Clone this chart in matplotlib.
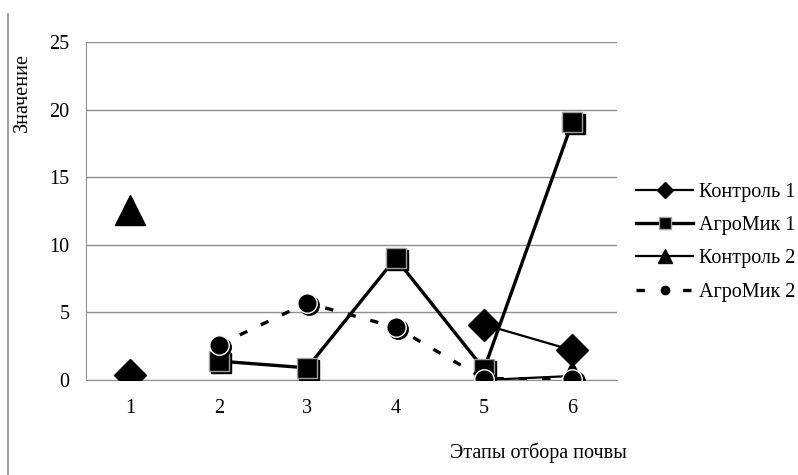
import numpy as np
import matplotlib.pyplot as plt
import matplotlib.transforms as mtransforms
from matplotlib.lines import Line2D

plt.rcParams['font.family'] = ['Liberation Serif', 'DejaVu Serif']

stages = [1, 2, 3, 4, 5, 6]
control1 = [0.4, np.nan, np.nan, np.nan, 4.1, 2.2]
agromik1 = [np.nan, 1.4, 0.9, 9.0, 0.8, 19.1]
control2 = [12.6, np.nan, np.nan, np.nan, 0.0, 0.3]
agromik2 = [np.nan, 2.6, 5.7, 3.9, 0.1, 0.1]
names = ['Контроль 1', 'АгроМик 1', 'Контроль 2', 'АгроМик 2']
yticks = [0, 5, 10, 15, 20, 25]

fig = plt.figure(figsize=(7.98, 4.75), dpi=100)
ax = fig.add_axes([0.1078, 0.2, 0.665, 0.7116])

# small drop shadow under the squares and circles
shift = mtransforms.offset_copy(ax.transData, fig=fig, x=1.5, y=-1.5, units='points')

ax.plot(stages, control2, color='black', lw=1.6, marker='^', ms=21, mfc='black', mec='black', zorder=3)
ax.plot(stages, control1, color='black', lw=1.6, marker='D', ms=16, mfc='black', mec='black', zorder=4)
ax.plot(stages, agromik1, ls='none', marker='s', ms=14, mfc='black', mec='black', transform=shift, zorder=5)
ax.plot(stages, agromik1, color='black', lw=2.4, marker='s', ms=14, mfc='black', mec='#a0a0a0', mew=1.0,
        zorder=5)
ax.plot(stages, agromik2, ls='none', marker='o', ms=14, mfc='black', mec='black', transform=shift, zorder=6)
ax.plot(stages, agromik2, color='black', lw=2.4, ls=(0, (2.5, 4.5)), marker='o', ms=14, mfc='black',
        mec='white', mew=1.0, zorder=6)

ax.set_xlim(0.5, 6.5)
ax.set_ylim(0, 25)
ax.set_yticks(yticks)
ax.set_xticks(stages)
ax.grid(axis='y', color='#909090', lw=1.0)
ax.set_axisbelow(True)
for s in ['top', 'right']:
    ax.spines[s].set_visible(False)
ax.spines['left'].set_color('#909090')
ax.spines['bottom'].set_color('#909090')
ax.tick_params(length=0, labelsize=14.5)
ax.tick_params(axis='y', pad=12)
ax.tick_params(axis='x', pad=14)

fig.text(0.028, 0.805, 'Значение', rotation=90, fontsize=14.5, ha='center', va='center')
fig.text(0.675, 0.046, 'Этапы отбора почвы', fontsize=14.5, ha='center', va='center')

# left border of chart frame
fig.add_artist(Line2D([0.010, 0.010], [0.0, 0.97], color='#909090', lw=1.2))

handles = [
    Line2D([], [], color='black', lw=1.6, marker='D', ms=8, mfc='black', mec='black'),
    Line2D([], [], color='black', lw=2.4, marker='s', ms=8, mfc='black', mec='#a0a0a0'),
    Line2D([], [], color='black', lw=1.6, marker='^', ms=10, mfc='black', mec='black'),
    Line2D([], [], color='black', lw=2.4, ls=(0, (2.5, 4.5)), marker='o', ms=8, mfc='black', mec='white'),
]
fig.legend(handles, names, loc='center left', bbox_to_anchor=(0.797, 0.49), frameon=False,
           fontsize=14.5, handlelength=2.85, handletextpad=0.28, labelspacing=0.7,
           borderpad=0, borderaxespad=0)

fig.savefig('out.png', dpi=100)
